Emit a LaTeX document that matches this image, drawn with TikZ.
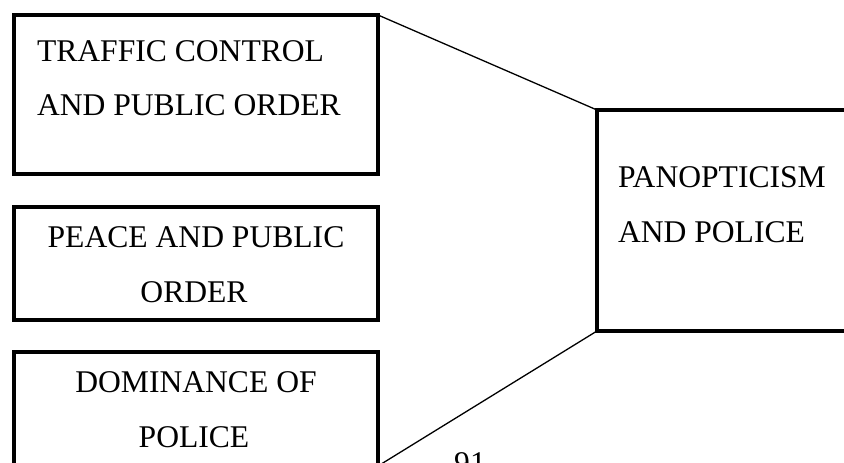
\documentclass[tikz,border=0pt]{standalone}
\usepackage{fontspec}
\setmainfont{Liberation Serif}
\begin{document}
\begin{tikzpicture}[x=1pt,y=-1pt,
  boxstyle/.style={draw=black, line width=4pt, rectangle, outer sep=0pt, inner sep=0pt, fill=none},
  label/.style={inner sep=0pt, outer sep=0pt, font=\fontsize{31.6}{54}\selectfont},
  link/.style={draw=black, line width=1.3pt}]
\useasboundingbox (0,0) rectangle (844,463);
\clip (0,0) rectangle (844,463);
% boxes
\node[boxstyle, minimum width=364pt, minimum height=159pt] (b1) at (196,94.5) {};
\node[boxstyle, minimum width=364pt, minimum height=113pt] (b2) at (196,263.5) {};
\node[boxstyle, minimum width=364pt, minimum height=114pt] (b3) at (196,409) {};
\node[boxstyle, minimum width=320pt, minimum height=221pt] (b4) at (757,220.5) {};
% texts
\node[label, anchor=base west] (t1a) at (37,61) {TRAFFIC CONTROL};
\node[label, anchor=base west] (t1b) at (37,115) {AND PUBLIC ORDER};
\node[label, anchor=base] (t2a) at (196,247) {PEACE AND PUBLIC};
\node[label, anchor=base] (t2b) at (194,302) {ORDER};
\node[label, anchor=base] (t3a) at (196,392) {DOMINANCE OF};
\node[label, anchor=base] (t3b) at (194,447) {POLICE};
\node[label, anchor=base west] (t4a) at (618,187) {PANOPTICISM};
\node[label, anchor=base west] (t4b) at (618,242) {AND POLICE};
\node[label, anchor=base] (pg) at (470,473) {91};
% connectors
\draw[link] (b1.north east) -- (b4.north west);
\draw[link] (b4.south west) -- (b3.south east);
\end{tikzpicture}
\end{document}
